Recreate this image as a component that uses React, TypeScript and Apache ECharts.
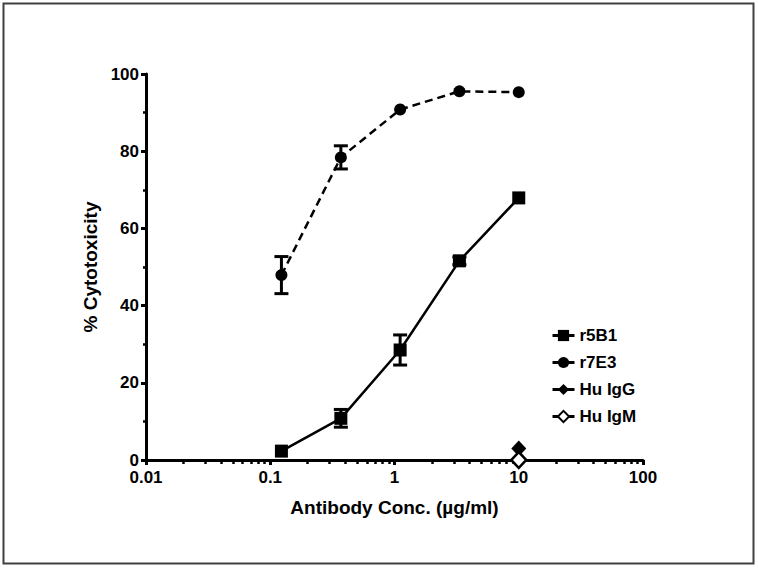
import React, { useEffect, useRef } from "react";
import * as echarts from "echarts";

const concentrations = [0.123, 0.37, 1.11, 3.33, 10];
const r5B1 = [2.3, 10.8, 28.5, 51.6, 67.9];
const r5B1Err = [0, 2.3, 3.9, 1.0, 0];
const r7E3 = [47.9, 78.4, 90.8, 95.5, 95.3];
const r7E3Err = [4.8, 3.0, 0, 0, 0];
const huIgGX = [10];
const huIgG = [3];
const huIgMX = [10];
const huIgM = [0];
const xMinorTicks = [
  0.02, 0.03, 0.04, 0.05, 0.06, 0.07, 0.08, 0.09,
  0.2, 0.3, 0.4, 0.5, 0.6, 0.7, 0.8, 0.9,
  2, 3, 4, 5, 6, 7, 8, 9,
  20, 30, 40, 50, 60, 70, 80, 90,
];
const seriesNames = ["r5B1", "r7E3", "Hu IgG", "Hu IgM"];
const xTitle = "Antibody Conc. (\u00b5g/ml)";
const yTitle = "% Cytotoxicity";

const FONT = "'Liberation Sans', Arial, Helvetica, sans-serif";

export default function App() {
  const ref = useRef<HTMLDivElement>(null);
  useEffect(() => {
    if (!ref.current) return;
    const chart = echarts.init(ref.current, undefined, { renderer: "svg" });
    const errData: number[][] = [];
    concentrations.forEach((c, i) => {
      if (r5B1Err[i] > 0) errData.push([c, r5B1[i], r5B1Err[i]]);
      if (r7E3Err[i] > 0) errData.push([c, r7E3[i], r7E3Err[i]]);
    });
    const fmt = (v: any) => String(parseFloat(Number(v).toPrecision(6)));
    chart.setOption({
      animation: false,
      backgroundColor: "#ffffff",
      graphic: [
        {
          type: "rect",
          shape: { x: 3.5, y: 3.5, width: 750, height: 560 },
          style: { fill: "none", stroke: "#404040", lineWidth: 2 },
          silent: true,
        },
      ],
      grid: { left: 146, right: 115, top: 74, bottom: 108, containLabel: false },
      legend: {
        data: seriesNames,
        orient: "vertical",
        left: 551,
        top: 327,
        padding: 0,
        itemWidth: 22,
        itemHeight: 14,
        itemGap: 10,
        lineStyle: { type: "solid", width: 3, color: "#000" },
        textStyle: { fontFamily: FONT, fontWeight: "bold", fontSize: 17, color: "#000" },
      },
      xAxis: [
        {
          type: "log",
          logBase: 10,
          min: 0.01,
          max: 100,
          name: xTitle,
          nameLocation: "middle",
          nameGap: 38,
          nameTextStyle: { fontFamily: FONT, fontWeight: "bold", fontSize: 19, color: "#000" },
          axisLine: { lineStyle: { color: "#000", width: 3 } },
          axisTick: { show: true, length: 5, lineStyle: { color: "#000", width: 3 } },
          axisLabel: { fontFamily: FONT, fontWeight: "bold", fontSize: 17, color: "#000", margin: 9, formatter: fmt },
          splitLine: { show: false },
          minorTick: { show: false },
        },
        {
          type: "log",
          logBase: 10,
          min: 0.01,
          max: 100,
          position: "bottom",
          axisLine: { show: false },
          axisTick: { show: true, length: 4, customValues: xMinorTicks, lineStyle: { color: "#000", width: 2.5 } },
          axisLabel: { show: false },
          splitLine: { show: false },
        },
      ],
      yAxis: {
        type: "value",
        min: 0,
        max: 100,
        interval: 20,
        name: yTitle,
        nameLocation: "middle",
        nameGap: 44,
        nameTextStyle: { fontFamily: FONT, fontWeight: "bold", fontSize: 19, color: "#000" },
        axisLine: { show: true, lineStyle: { color: "#000", width: 3 } },
        axisTick: { show: true, length: 5, lineStyle: { color: "#000", width: 3 } },
        minorTick: { show: true, splitNumber: 2, length: 3, lineStyle: { color: "#000", width: 2.5 } },
        axisLabel: { fontFamily: FONT, fontWeight: "bold", fontSize: 17, color: "#000", margin: 7 },
        splitLine: { show: false },
      },
      series: [
        {
          type: "custom",
          name: "errors",
          xAxisIndex: 0,
          z: 1,
          silent: true,
          data: errData,
          renderItem: (params: any, api: any) => {
            const x = api.value(0);
            const y = api.value(1);
            const e = api.value(2);
            const top = api.coord([x, y + e]);
            const bot = api.coord([x, y - e]);
            const hw = 7;
            const st = { stroke: "#000", lineWidth: 3 };
            return {
              type: "group",
              children: [
                { type: "line", shape: { x1: top[0], y1: top[1], x2: bot[0], y2: bot[1] }, style: st },
                { type: "line", shape: { x1: top[0] - hw, y1: top[1], x2: top[0] + hw, y2: top[1] }, style: st },
                { type: "line", shape: { x1: bot[0] - hw, y1: bot[1], x2: bot[0] + hw, y2: bot[1] }, style: st },
              ],
            };
          },
        },
        {
          type: "line",
          name: "r5B1",
          z: 3,
          clip: false,
          data: concentrations.map((c, i) => [c, r5B1[i]]),
          symbol: "rect",
          symbolSize: 13,
          itemStyle: { color: "#000" },
          lineStyle: { color: "#000", width: 2.5 },
        },
        {
          type: "line",
          name: "r7E3",
          z: 3,
          clip: false,
          data: concentrations.map((c, i) => [c, r7E3[i]]),
          symbol: "circle",
          symbolSize: 12,
          itemStyle: { color: "#000" },
          lineStyle: { color: "#000", width: 2.5, type: [8, 5] },
        },
        {
          type: "line",
          name: "Hu IgG",
          z: 3,
          clip: false,
          data: huIgGX.map((c, i) => [c, huIgG[i]]),
          symbol: "diamond",
          symbolSize: [15, 16],
          itemStyle: { color: "#000" },
          lineStyle: { color: "#000", width: 2.5 },
        },
        {
          type: "line",
          name: "Hu IgM",
          z: 4,
          clip: false,
          data: huIgMX.map((c, i) => [c, huIgM[i]]),
          symbol: "diamond",
          symbolSize: [15, 16],
          itemStyle: { color: "#fff", borderColor: "#000", borderWidth: 2.5 },
          lineStyle: { color: "#000", width: 2.5 },
        },
      ],
    });
    return () => chart.dispose();
  }, []);
  return (
    <div
      ref={ref}
      style={{ position: "fixed", left: 0, top: 0, width: 758, height: 568, background: "#fff" }}
    />
  );
}
